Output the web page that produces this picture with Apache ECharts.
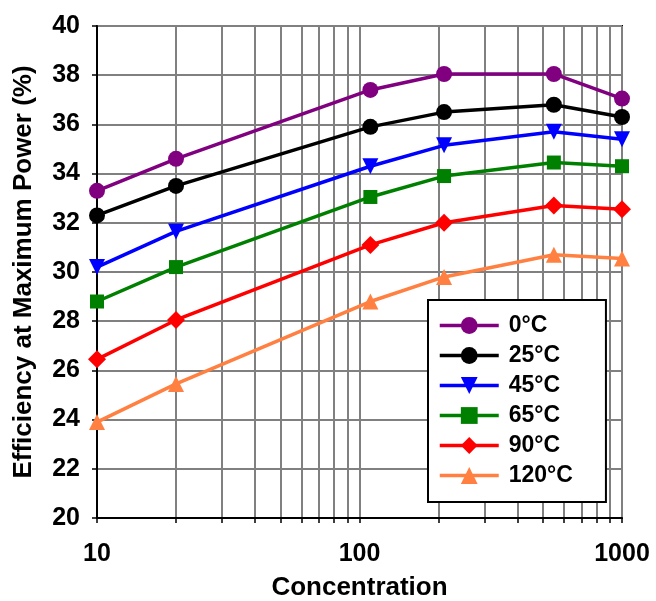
<!DOCTYPE html>
<html>
<head>
<meta charset="utf-8">
<script src="https://cdn.jsdelivr.net/npm/echarts@6/dist/echarts.min.js"></script>
<style>html,body{margin:0;padding:0;background:#fff}#c{width:656px;height:601px}</style>
</head>
<body>
<div id="c"></div>
<script>
var concentration = [10, 20, 110, 210, 550, 1000];
var seriesNames = ['0°C', '25°C', '45°C', '65°C', '90°C', '120°C'];
var eff0 = [33.3, 34.6, 37.4, 38.05, 38.05, 37.05];
var eff25 = [32.3, 33.5, 35.9, 36.5, 36.8, 36.3];
var eff45 = [30.2, 31.65, 34.3, 35.15, 35.7, 35.4];
var eff65 = [28.8, 30.2, 33.05, 33.9, 34.45, 34.3];
var eff90 = [26.45, 28.05, 31.1, 32.0, 32.7, 32.55];
var eff120 = [23.9, 25.45, 28.8, 29.8, 30.7, 30.55];
var xTickValues = [10, 20, 30, 40, 50, 60, 70, 80, 90, 100, 200, 300, 400, 500, 600, 700, 800, 900, 1000];
var xLabelValues = [10, 100, 1000];

var allData = [eff0, eff25, eff45, eff65, eff90, eff120];
var colors = ['#800080', '#000000', '#0000ff', '#008000', '#ff0000', '#ff8040'];
var symbols = ['circle', 'circle', 'triangle', 'rect', 'diamond', 'triangle'];
var symbolSizes = [16, 16, 16, 14, 18, 16];
var symbolRotates = [0, 0, 180, 0, 0, 0];

var font = '"Liberation Sans", Arial, Helvetica, sans-serif';

var series = allData.map(function (vals, i) {
  return {
    name: seriesNames[i],
    type: 'line',
    data: concentration.map(function (x, j) { return [x, vals[j]]; }),
    symbol: symbols[i],
    symbolSize: symbolSizes[i],
    symbolRotate: symbolRotates[i],
    showAllSymbol: true,
    itemStyle: { color: colors[i] },
    lineStyle: { color: colors[i], width: 3.5 },
    emphasis: { disabled: true },
    animation: false,
    z: 3
  };
});

var chart = echarts.init(document.getElementById('c'), null, { renderer: 'canvas' });
chart.setOption({
  backgroundColor: '#fff',
  animation: false,
  grid: {
    left: 97, right: 34, top: 26, bottom: 83,
    containLabel: false,
    outerBoundsMode: 'none',
    show: true, borderColor: '#000', borderWidth: 2, backgroundColor: 'transparent'
  },
  xAxis: {
    type: 'log',
    logBase: 10,
    min: 10,
    max: 1000,
    name: 'Concentration',
    nameLocation: 'middle',
    nameGap: 57,
    nameTextStyle: { fontFamily: font, fontWeight: 'bold', fontSize: 26, color: '#000' },
    axisLine: { show: true, lineStyle: { color: '#000', width: 2 } },
    axisTick: { show: true, length: 5, lineStyle: { color: '#000', width: 1.5 }, customValues: xTickValues },
    axisLabel: {
      customValues: xLabelValues, margin: 24, fontFamily: font, fontWeight: 'bold', fontSize: 25, color: '#000',
      formatter: function (v) { return String(v); }
    },
    splitLine: { show: true, lineStyle: { color: '#808080', width: 2 } }
  },
  yAxis: {
    type: 'value',
    min: 20,
    max: 40,
    interval: 2,
    name: 'Efficiency at Maximum Power (%)',
    nameLocation: 'middle',
    nameGap: 60,
    nameTextStyle: { fontFamily: font, fontWeight: 'bold', fontSize: 26, color: '#000' },
    axisLine: { show: true, lineStyle: { color: '#000', width: 2 } },
    axisTick: { show: true, length: 5, lineStyle: { color: '#000', width: 1.5 } },
    axisLabel: { margin: 17, fontFamily: font, fontWeight: 'bold', fontSize: 25, color: '#000' },
    splitLine: { show: true, lineStyle: { color: '#808080', width: 2 } }
  },
  legend: {
    show: true,
    orient: 'vertical',
    left: 428,
    top: 300,
    backgroundColor: '#fff',
    borderColor: '#000',
    borderWidth: 2,
    borderRadius: 0,
    padding: [14, 33, 15, 10],
    itemWidth: 59,
    itemHeight: 21,
    itemGap: 7,
    lineStyle: { width: 3.5 },
    textStyle: { fontFamily: font, fontWeight: 'bold', fontSize: 23, lineHeight: 23, color: '#000', padding: [0, 0, 0, 5] },
    data: seriesNames
  },
  series: series
});
</script>
</body>
</html>
